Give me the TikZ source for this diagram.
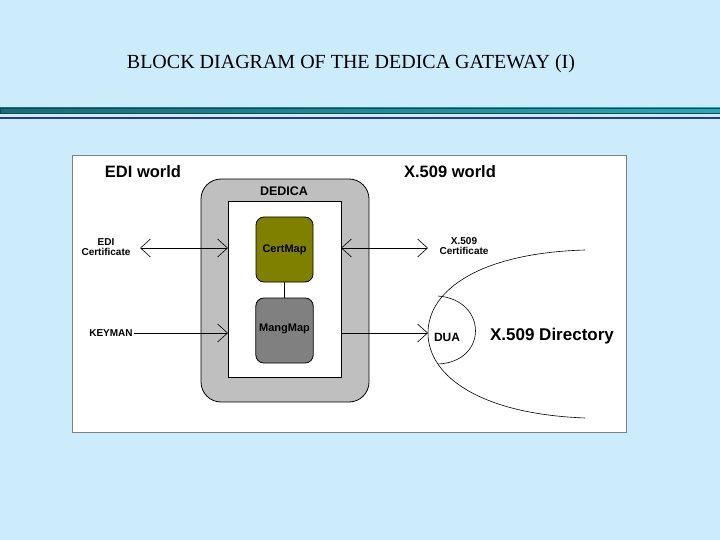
\documentclass[tikz,border=0pt]{standalone}
\usepackage{fontspec}
\setmainfont{Liberation Serif}
\newfontfamily\arl{Liberation Sans}
\usetikzlibrary{arrows.meta}
\definecolor{bg}{HTML}{CCEBFB}
\definecolor{teal1}{HTML}{1A6B78}
\definecolor{teal2}{HTML}{2AA8B8}
\definecolor{navy}{HTML}{283C8C}
\definecolor{olive}{HTML}{808000}
\begin{document}
\begin{tikzpicture}[x=1pt,y=-1pt,
  lbl/.style={font=\arl\bfseries\fontsize{16.5}{18}\selectfont},
  small/.style={font=\arl\bfseries\fontsize{10}{10.5}\selectfont,align=center,inner sep=1pt},
  box/.style={draw=black,rounded corners=8pt,line width=0.8pt},
  chev/.style={-{Straight Barb[length=10pt,width=18pt,line width=0.6pt]}},
  dchev/.style={{Straight Barb[length=10pt,width=18pt,line width=0.6pt]}-{Straight Barb[length=10pt,width=18pt,line width=0.6pt]}},
  conn/.style={line width=0.6pt}]
\useasboundingbox (0,0) rectangle (720,540);
\fill[bg] (0,0) rectangle (720,540);
\node (title) at (351,64) {\fontsize{20}{22}\selectfont BLOCK DIAGRAM OF THE DEDICA GATEWAY (I)};
\shade[left color=teal1,right color=teal2,draw=teal1!70!black] (0,108) rectangle (720,113);
\draw[navy,line width=1.8pt] (0,118) -- (720,118);
\draw[fill=white,draw=gray] (72,155) rectangle (626,432);
\node[lbl] (edw) at (143,172) {EDI world};
\node[lbl] (xw) at (450,172) {X.509 world};
\draw[fill=gray!50,rounded corners=20pt,line width=0.8pt] (201,179) rectangle (369,402);
\node[font=\arl\bfseries\fontsize{12.5}{14}\selectfont] (ded) at (284,191) {DEDICA};
\draw[fill=white,line width=0.6pt] (228,201) rectangle (341,377);
\coordinate (innerL1) at (228,248); \coordinate (innerL2) at (228,333);
\coordinate (innerR1) at (341,248); \coordinate (innerR2) at (341,333);
\node[box,fill=olive,minimum width=57pt,minimum height=65pt,font=\arl\bfseries\fontsize{11}{12}\selectfont] (cm) at (284.5,249.5) {CertMap};
\node[box,fill=gray,minimum width=57pt,minimum height=65pt,font=\arl\bfseries\fontsize{11}{12}\selectfont] (mm) at (284.5,330.5) {\raisebox{6pt}{MangMap}};
\draw[line width=1pt] (cm) -- (mm);
\node[small] (edic) at (106,247) {EDI\\Certificate};
\node[small] (key) at (111,333) {KEYMAN};
\node[small] (xc) at (464,246) {X.509\\Certificate};
\coordinate (ea) at (140,248); \coordinate (xa) at (428,248);
\draw[conn,dchev] (ea) -- (innerL1);
\draw[conn,chev] (key) -- (innerL2);
\draw[conn,dchev] (innerR1) -- (xa);
\coordinate (p0) at (585,250); \coordinate (pv) at (428,333); \coordinate (p1) at (585,418);
\draw[conn] (p0) .. controls (480,253) and (428,290) .. (pv)
            .. controls (428,376) and (480,414) .. (p1);
\coordinate (d0) at (438,296); \coordinate (d1) at (438,364);
\draw[conn] (d0) .. controls (488,300) and (488,362) .. (d1);
\node[font=\arl\bfseries\fontsize{12}{13}\selectfont] (dua) at (447,337) {DUA};
\draw[conn,chev] (innerR2) -- (pv);
\node[font=\arl\bfseries\fontsize{17}{19}\selectfont] (xd) at (552,336) {X.509 Directory};
\end{tikzpicture}
\end{document}
